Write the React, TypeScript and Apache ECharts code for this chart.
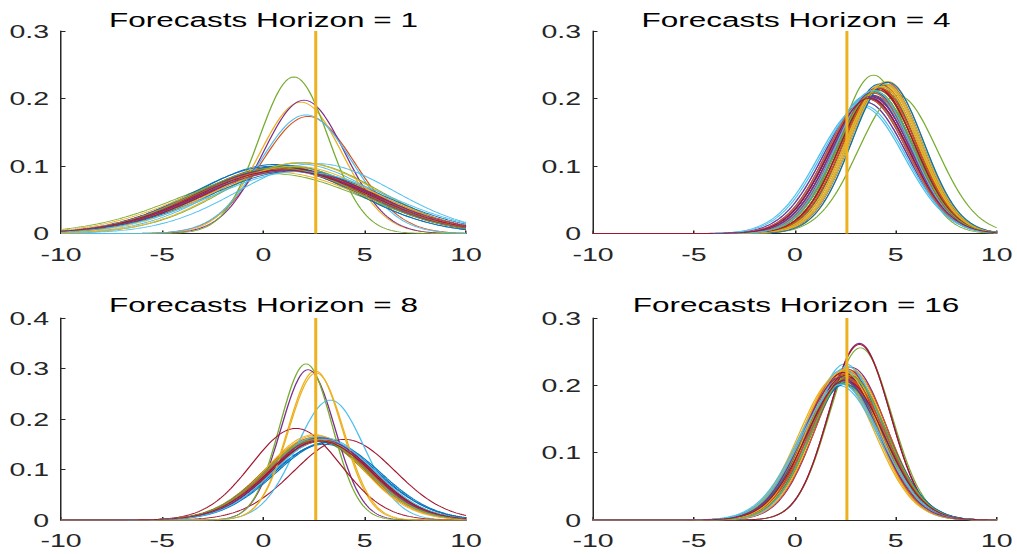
import React, { useEffect, useRef } from "react";
import * as echarts from "echarts";

// MATLAB default colour order
const COLORS = ["#0072BD", "#D95319", "#EDB120", "#7E2F8E", "#77AC30", "#4DBEEE", "#A2142F"];

const TITLES = ["Forecasts Horizon = 1", "Forecasts Horizon = 4", "Forecasts Horizon = 8", "Forecasts Horizon = 16"];
const X_TICKS = [-10, -5, 0, 5, 10];
const Y_MAX = [0.3, 0.3, 0.4, 0.3];
const REALIZED = 2.58;

// density parameters (mean, std)
const h1Mean = [0.6, 0.8, 1.0, 0.9, 0.4, 1.6, 0.8, 1.1, 2.2, 1.85, 2.0, 1.5, 2.1, 1.0, 0.5, 1.2, 0.6, 1.3, 1.9, 2.6, 1.1, 0.9, 1.4, 1.8, 0.7, 1.3, 1.0, 1.3, 1.6, 0.9, 1.5, 1.2, 0.7, 1.8, 1.0];
const h1Sd = [3.9, 4.0, 4.1, 4.05, 4.5, 3.85, 4.05, 3.95, 2.3, 2.05, 2.02, 1.72, 2.27, 4.1, 4.0, 4.15, 4.4, 4.2, 3.8, 3.85, 4.2, 4.1, 4.25, 3.8, 4.2, 4.05, 4.3, 4.15, 4.3, 4.2, 4.0, 4.3, 4.1, 4.35, 4.25];

const h4Mean = [3.6, 4.1, 4.3, 3.8, 3.9, 3.5, 4.0, 4.4, 3.7, 4.2, 3.5, 5.1, 3.4, 3.9, 4.2, 4.5, 4.4, 3.6, 4.0, 3.7, 4.1, 3.8, 4.3, 4.6, 3.7, 3.9, 3.6, 4.2, 4.5, 3.6, 4.4, 3.9, 4.1, 3.3, 3.8, 4.0, 4.2, 4.5, 3.7, 4.3, 3.8, 4.1, 4.6, 3.9, 4.3, 3.8, 4.0, 3.9, 3.7];
const h4Sd = [1.95, 1.85, 1.8, 1.95, 1.7, 2.05, 1.9, 1.8, 2.0, 1.85, 2.05, 1.95, 2.1, 1.95, 1.8, 1.78, 1.8, 2.0, 1.9, 1.98, 1.85, 1.95, 1.82, 1.77, 2.0, 1.88, 1.95, 1.85, 1.8, 2.0, 1.8, 1.9, 1.88, 2.12, 1.97, 1.92, 1.85, 1.8, 1.98, 1.84, 1.9, 1.87, 1.78, 1.92, 1.83, 1.96, 1.9, 1.88, 1.99];

const h8Mean = [2.8, 2.6, 2.7, 2.9, 2.5, 3.0, 2.7, 3.1, 2.5, 2.6, 2.8, 2.7, 2.9, 4.0, 3.0, 2.8, 2.55, 2.2, 2.1, 3.3, 1.6, 2.7, 2.9, 2.5, 2.6, 2.8, 2.7, 2.9, 3.2, 2.7, 2.6, 2.8, 2.6, 3.0, 2.8];
const h8Sd = [2.5, 2.45, 2.4, 2.55, 2.5, 2.45, 2.55, 2.6, 2.45, 2.38, 2.5, 2.45, 2.5, 2.5, 2.66, 2.5, 1.35, 1.34, 1.29, 1.68, 2.2, 2.5, 2.55, 2.36, 2.5, 2.55, 2.42, 2.5, 2.6, 2.5, 1.37, 2.45, 2.5, 2.5, 2.55];

const h16Mean = [2.4, 2.6, 2.2, 2.5, 2.3, 2.2, 2.6, 2.5, 2.7, 2.1, 2.6, 2.4, 2.5, 2.7, 2.3, 2.5, 2.3, 2.8, 2.5, 2.3, 2.6, 2.4, 2.8, 2.2, 3.2, 3.25, 2.4, 3.2, 2.6, 2.4, 2.7, 2.4, 2.6, 2.2, 2.5, 2.7, 2.3, 2.5, 2.6, 2.4, 2.6, 2.4, 2.5, 2.6, 2.4, 2.3, 2.7, 2.3, 2.5];
const h16Sd = [1.85, 1.8, 1.85, 1.82, 1.9, 1.95, 1.78, 1.9, 1.82, 1.88, 1.8, 1.92, 1.72, 1.85, 1.97, 1.86, 1.8, 1.76, 1.95, 1.9, 1.88, 1.93, 1.8, 1.9, 1.52, 1.56, 1.78, 1.53, 1.95, 1.86, 1.76, 1.93, 1.84, 2.0, 1.86, 1.9, 1.84, 1.78, 1.9, 1.97, 1.75, 1.82, 1.98, 1.9, 1.8, 1.88, 1.86, 1.98, 1.92];

const MEANS = [h1Mean, h4Mean, h8Mean, h16Mean];
const SDS = [h1Sd, h4Sd, h8Sd, h16Sd];

// evaluation grid of the plotted densities
const XGRID: number[] = [];
for (let i = 0; i <= 200; i++) XGRID.push(Math.round((-10 + i * 0.1) * 10) / 10);

const pdf = (x: number, m: number, s: number) =>
  Math.exp(-((x - m) * (x - m)) / (2 * s * s)) / (s * Math.sqrt(2 * Math.PI));

const SX = 1.5; // horizontal stretch of the original figure
const W = 1017 / SX;
const FONT = "'Liberation Sans', Arial, Helvetica, sans-serif";
const AX = "#262626";

const GRIDS = [
  { left: 61 / SX, top: 31, width: 405 / SX, height: 202.5 },
  { left: 593 / SX, top: 31, width: 406 / SX, height: 202.5 },
  { left: 61 / SX, top: 318, width: 405 / SX, height: 202 },
  { left: 593 / SX, top: 318, width: 406 / SX, height: 202 },
];

export default function App() {
  const ref = useRef<HTMLDivElement>(null);
  useEffect(() => {
    if (!ref.current) return;
    const chart = echarts.init(ref.current, undefined, { renderer: "svg" });
    const series: any[] = [];
    for (let p = 0; p < 4; p++) {
      const ms = MEANS[p];
      const ss = SDS[p];
      for (let i = 0; i < ms.length; i++) {
        series.push({
          type: "line",
          xAxisIndex: p,
          yAxisIndex: p,
          showSymbol: false,
          silent: true,
          z: 2,
          lineStyle: { width: 0.9, color: COLORS[i % 7] },
          data: XGRID.map((x) => [x, pdf(x, ms[i], ss[i])]),
        });
      }
      series.push({
        type: "line",
        xAxisIndex: p,
        yAxisIndex: p,
        showSymbol: false,
        silent: true,
        z: 3,
        lineStyle: { width: 2, color: "#EDB120" },
        data: [
          [REALIZED, 0],
          [REALIZED, Y_MAX[p]],
        ],
      });
    }
    chart.setOption({
      animation: false,
      title: GRIDS.map((g, p) => ({
        text: TITLES[p],
        left: g.left + g.width / 2,
        top: p < 2 ? 9 : 294,
        textAlign: "center",
        padding: 0,
        textStyle: { fontFamily: FONT, fontSize: 21, fontWeight: "normal", color: "#000" },
      })),
      grid: GRIDS.map((g) => ({ ...g, containLabel: false })),
      xAxis: GRIDS.map((_, p) => ({
        type: "value",
        gridIndex: p,
        min: X_TICKS[0],
        max: X_TICKS[X_TICKS.length - 1],
        interval: 5,
        axisLine: { show: true, onZero: false, lineStyle: { color: AX, width: 1 } },
        axisTick: { show: true, inside: true, length: 3, lineStyle: { color: AX } },
        axisLabel: { color: AX, fontFamily: FONT, fontSize: 19, margin: 11 },
        splitLine: { show: false },
      })),
      yAxis: GRIDS.map((_, p) => ({
        type: "value",
        gridIndex: p,
        min: 0,
        max: Y_MAX[p],
        interval: 0.1,
        axisLine: { show: true, onZero: false, lineStyle: { color: AX, width: 1 } },
        axisTick: { show: true, inside: true, length: 3, lineStyle: { color: AX } },
        axisLabel: { color: AX, fontFamily: FONT, fontSize: 19, margin: 8 },
        splitLine: { show: false },
      })),
      series,
    });
    return () => chart.dispose();
  }, []);
  return (
    <div style={{ position: "fixed", left: 0, top: 0, width: 1017, height: 554, overflow: "hidden", background: "#fff" }}>
      <div
        ref={ref}
        style={{ width: W, height: 554, transform: `scaleX(${SX})`, transformOrigin: "0 0" }}
      />
    </div>
  );
}
